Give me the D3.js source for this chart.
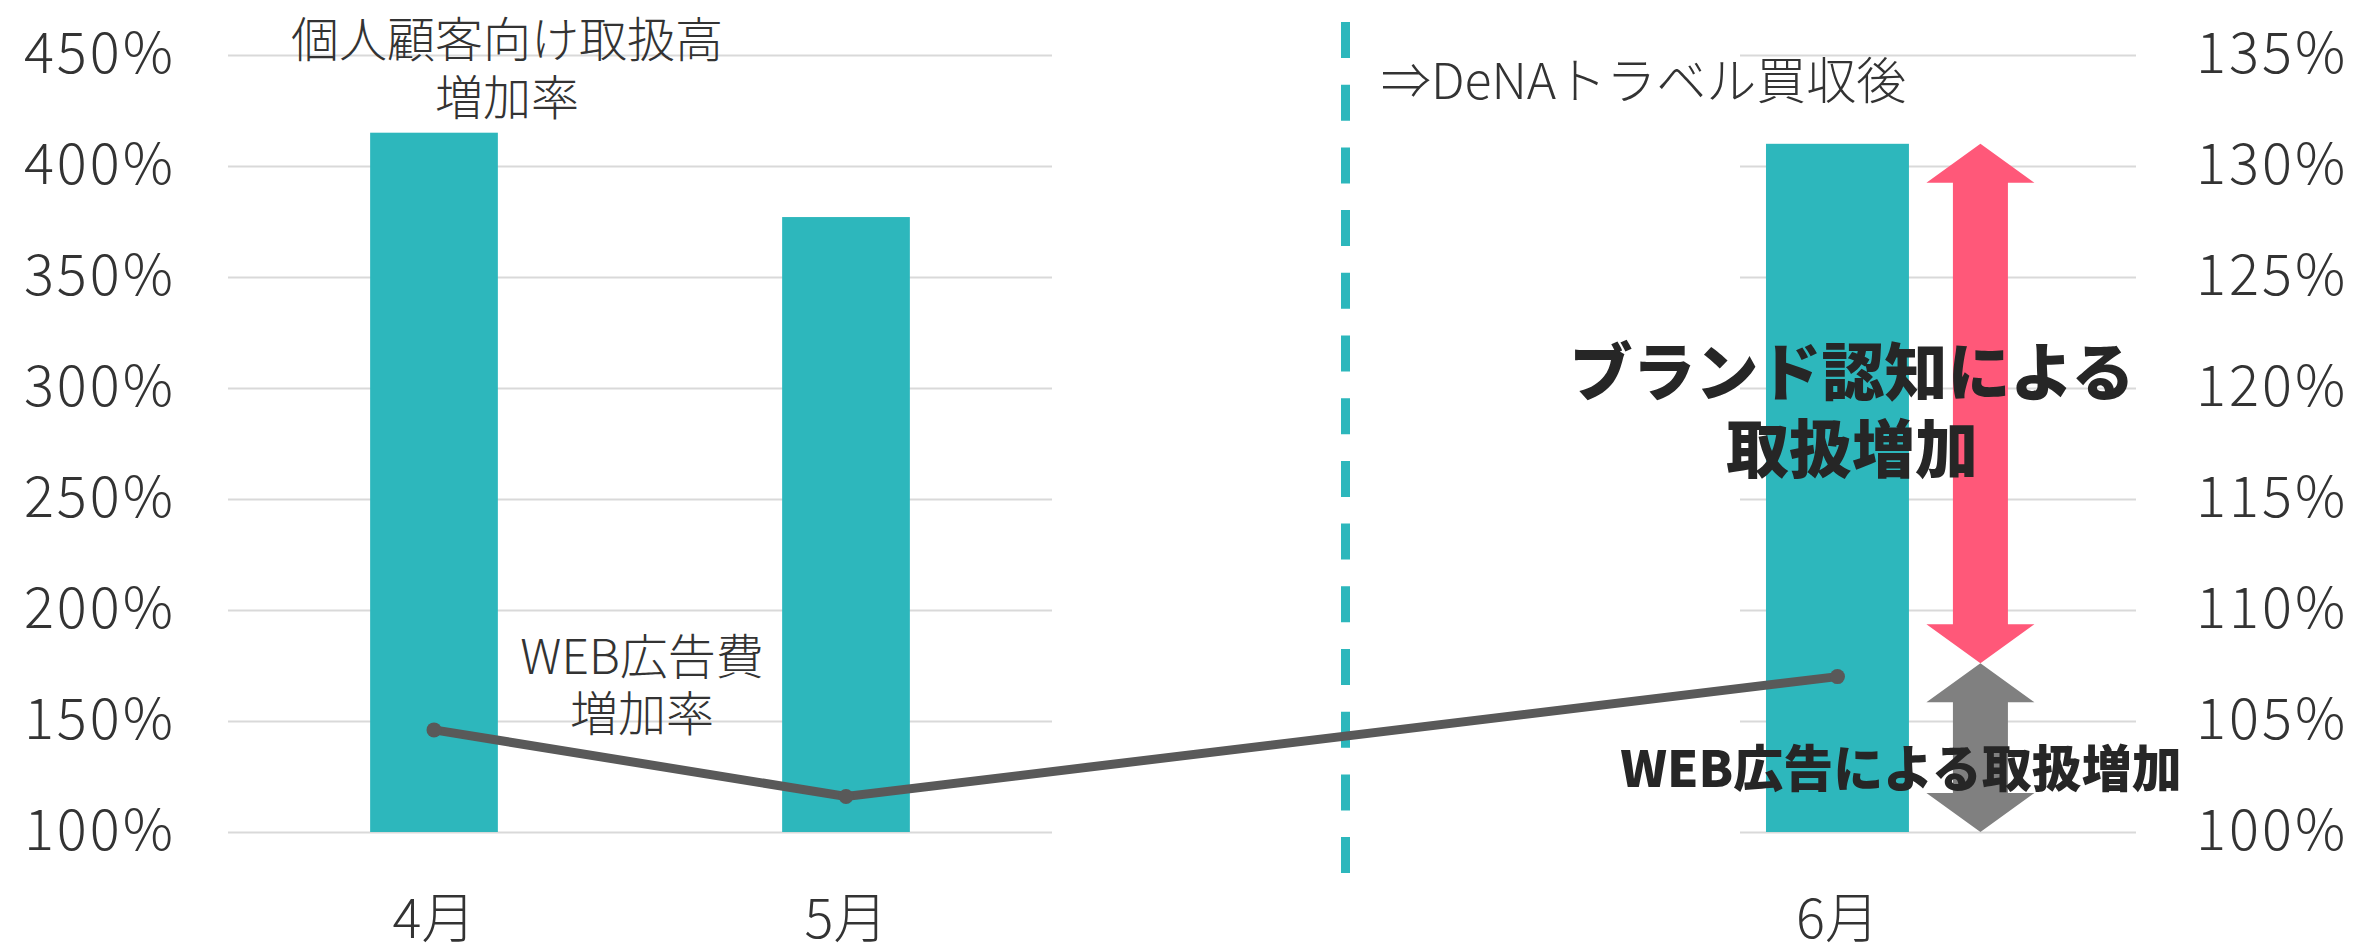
<!DOCTYPE html>
<html>
<head>
<meta charset="utf-8">
<script src="https://cdn.jsdelivr.net/npm/d3@7/dist/d3.min.js"></script>
<style>
  html, body { margin: 0; padding: 0; background: #ffffff; }
  svg { display: block; }
  .thin { font-family: "Noto Sans CJK JP", "Noto Sans", sans-serif; font-weight: 300; fill: #333333; }
  .heavy { font-family: "Noto Sans CJK JP", "Noto Sans", sans-serif; font-weight: 900; fill: #262626; }
</style>
</head>
<body>
<script>
// ---- data ----
const leftCategories = ["4月", "5月"];
const rightCategories = ["6月", "矢印"];
const barMonths = ["4月", "5月", "6月"];
const barValues = [415, 377, 410];          // 個人顧客向け取扱高増加率 (left axis, %)
const lineValues = [104.6, 101.6, 107.0];   // WEB広告費増加率 (right axis, %)
const leftTicks = [100, 150, 200, 250, 300, 350, 400, 450];
const rightTicks = [100, 105, 110, 115, 120, 125, 130, 135];
const brandArrow = [107.6, 131];            // ブランド認知による取扱増加 (right axis)
const webArrow = [100, 107.6];              // WEB広告による取扱増加 (right axis)

const W = 2354, H = 944;
const svg = d3.select("body").append("svg").attr("width", W).attr("height", H);

const yL = d3.scaleLinear().domain([100, 450]).range([832, 55]);
const yR = d3.scaleLinear().domain([100, 135]).range([832, 55]);

const xL = d3.scaleBand().domain(leftCategories).range([228, 1052])
  .paddingInner(0.69).paddingOuter(0.345);
const xR = d3.scaleBand().domain(rightCategories).range([1740, 2136])
  .paddingInner(0).paddingOuter(0.385).align(0.236);

function xBand(m) { return xL.domain().includes(m) ? xL(m) : xR(m); }
function bw(m) { return xL.domain().includes(m) ? xL.bandwidth() : xR.bandwidth(); }
function xc(m) { return xBand(m) + bw(m) / 2; }

// ---- gridlines ----
const gridL = d3.axisLeft(yL).tickValues(leftTicks).tickSize(-(1052 - 228)).tickFormat("");
svg.append("g").attr("transform", "translate(228,0)").call(gridL)
  .call(g => g.select(".domain").remove())
  .call(g => g.selectAll("line").attr("stroke", "#d9d9d9").attr("stroke-width", 2));
const gridR = d3.axisLeft(yR).tickValues(rightTicks).tickSize(-(2136 - 1740)).tickFormat("");
svg.append("g").attr("transform", "translate(1740,0)").call(gridR)
  .call(g => g.select(".domain").remove())
  .call(g => g.selectAll("line").attr("stroke", "#d9d9d9").attr("stroke-width", 2));

// ---- tick labels ----
const axL = d3.axisLeft(yL).tickValues(leftTicks).tickSize(0).tickPadding(0).tickFormat(d => d + "%");
svg.append("g").attr("class", "ticklbl").attr("transform", "translate(176,0)").call(axL)
  .call(g => g.select(".domain").remove());
const axR = d3.axisRight(yR).tickValues(rightTicks).tickSize(0).tickPadding(0).tickFormat(d => d + "%");
svg.append("g").attr("class", "ticklbl").attr("transform", "translate(2196,0)").call(axR)
  .call(g => g.select(".domain").remove());
svg.selectAll(".ticklbl text")
  .attr("font-size", 56).attr("fill", "#333")
  .style("font-family", "'Noto Sans CJK JP', 'Noto Sans', sans-serif")
  .style("font-weight", 300).style("letter-spacing", "3px");

// ---- bars ----
svg.append("g").selectAll("rect").data(barMonths).join("rect")
  .attr("x", d => xBand(d))
  .attr("width", d => bw(d))
  .attr("y", (d, i) => yL(barValues[i]))
  .attr("height", (d, i) => yL(100) - yL(barValues[i]))
  .attr("fill", "#2db7bc");

// ---- x labels ----
svg.append("g").selectAll("text").data(barMonths).join("text")
  .attr("class", "thin")
  .attr("x", d => xc(d)).attr("y", 914)
  .attr("text-anchor", "middle").attr("dominant-baseline", "central")
  .attr("font-size", 54).text(d => d);

// ---- dashed divider ----
svg.append("line")
  .attr("x1", 1345.5).attr("x2", 1345.5).attr("y1", 22).attr("y2", 873)
  .attr("stroke", "#2db7bc").attr("stroke-width", 9)
  .attr("stroke-dasharray", "36,26.7");

// ---- line ----
const pts = barMonths.map((m, i) => [xc(m), yR(lineValues[i])]);
svg.append("path").attr("d", d3.line()(pts))
  .attr("fill", "none").attr("stroke", "#595959").attr("stroke-width", 9);
svg.append("g").selectAll("circle").data(pts).join("circle")
  .attr("cx", d => d[0]).attr("cy", d => d[1]).attr("r", 7.5).attr("fill", "#595959");

// ---- arrows ----
function dblArrow(x, yTop, yBot, headW, shaftW, headH) {
  const p = d3.path();
  p.moveTo(x, yTop);
  p.lineTo(x + headW / 2, yTop + headH);
  p.lineTo(x + shaftW / 2, yTop + headH);
  p.lineTo(x + shaftW / 2, yBot - headH);
  p.lineTo(x + headW / 2, yBot - headH);
  p.lineTo(x, yBot);
  p.lineTo(x - headW / 2, yBot - headH);
  p.lineTo(x - shaftW / 2, yBot - headH);
  p.lineTo(x - shaftW / 2, yTop + headH);
  p.lineTo(x - headW / 2, yTop + headH);
  p.closePath();
  return p.toString();
}
const ax = xc("矢印");
svg.append("path").attr("d", dblArrow(ax, yR(brandArrow[1]), yR(brandArrow[0]), 108, 55, 39)).attr("fill", "#ff5879");
svg.append("path").attr("d", dblArrow(ax, yR(webArrow[1]), yR(webArrow[0]), 108, 55, 39)).attr("fill", "#808080");

// ---- annotations ----
function multi(lines, x, y0, dy, cls, size, anchor) {
  const t = svg.append("text").attr("class", cls).attr("font-size", size)
    .attr("text-anchor", anchor || "middle").attr("dominant-baseline", "central");
  lines.forEach((s, i) => t.append("tspan").attr("x", x).attr("y", y0 + i * dy).text(s));
  return t;
}
multi(["個人顧客向け取扱高", "増加率"], 507, 36, 58, "thin", 48).attr("fill", "#262626");
multi(["WEB広告費", "増加率"], 642, 653, 57, "thin", 48).attr("fill", "#262626");
multi(["⇒DeNAトラベル買収後"], 1381, 77, 0, "thin", 50, "start").attr("fill", "#262626");
multi(["ブランド認知による", "取扱増加"], 1852, 367, 77, "heavy", 63);
multi(["WEB広告による取扱増加"], 1901, 765, 0, "heavy", 50);
</script>
</body>
</html>
